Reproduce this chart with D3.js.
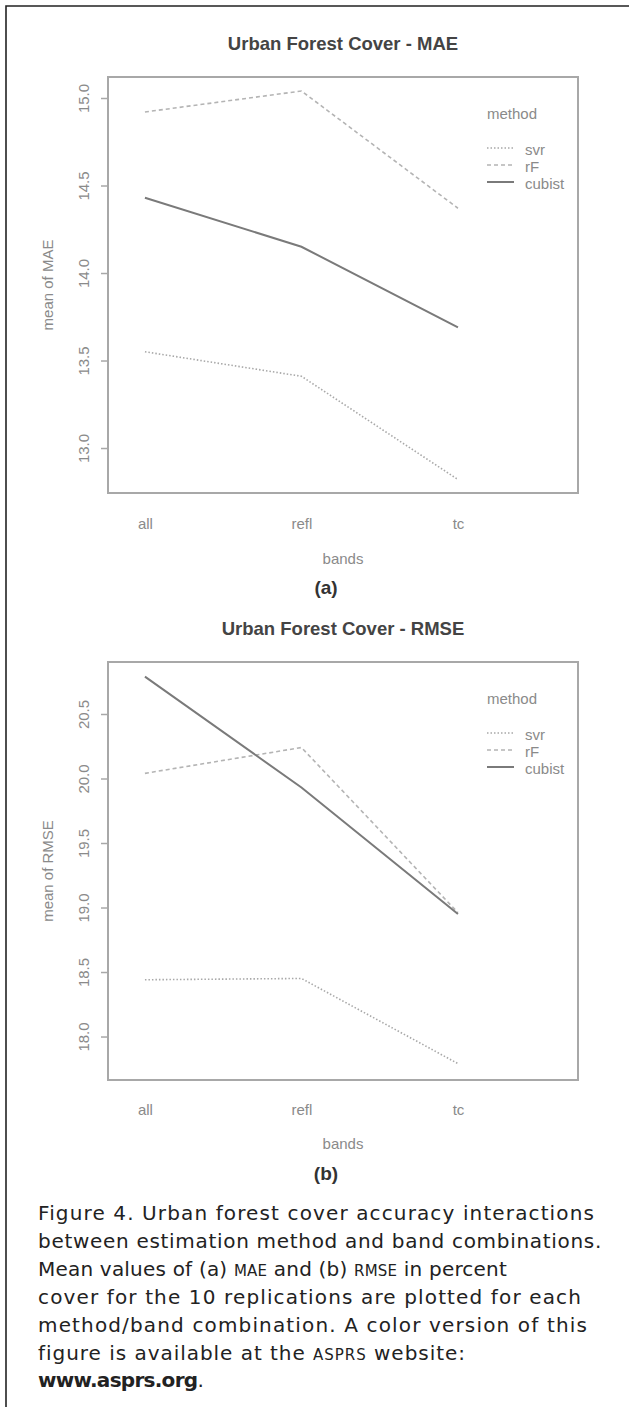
<!DOCTYPE html>
<html><head><meta charset="utf-8">
<script src="https://cdn.jsdelivr.net/npm/d3@7"></script>
<style>
html,body{margin:0;padding:0;background:#fff;}
svg{display:block;}
</style></head>
<body>
<script>
// ---- data ----
const bands = ["all", "refl", "tc"];
const methods = ["svr", "rF", "cubist"];
const maeSvr = [13.55, 13.41, 12.82];
const maeRF = [14.92, 15.04, 14.37];
const maeCubist = [14.43, 14.15, 13.69];
const rmseSvr = [18.44, 18.45, 17.79];
const rmseRF = [20.04, 20.24, 18.96];
const rmseCubist = [20.79, 19.93, 18.95];
const maeTicks = [13.0, 13.5, 14.0, 14.5, 15.0];
const rmseTicks = [18.0, 18.5, 19.0, 19.5, 20.0, 20.5];

const W = 629, H = 1407;
const svg = d3.select("body").append("svg").attr("width", W).attr("height", H);

// outer frame (left and top edges visible)
svg.append("path").attr("d", `M6,${H} L6,6 L${W},6`).attr("fill","none").attr("stroke","#222").attr("stroke-width",1.6);

const styles = {
  svr: {stroke:"#a8a8a8", dash:"1.5,2", width:1.6},
  rF: {stroke:"#b4b4b4", dash:"4,3", width:1.6},
  cubist: {stroke:"#7a7a7a", dash:null, width:2}
};
const font = "'Liberation Sans', Arial, sans-serif";
const lab = 15;

function panel(cfg) {
  const g = svg.append("g");
  const x = d3.scaleLinear().domain([0.764, 3.767]).range([108, 578]);
  const y = d3.scaleLinear().domain(cfg.yDomain).range([cfg.bottom, cfg.top]);
  // title
  g.append("text").attr("x", 343).attr("y", cfg.titleY).attr("text-anchor","middle")
    .attr("dominant-baseline","central").attr("font-family",font).attr("font-weight","bold")
    .attr("font-size",18.5).attr("fill","#444").text(cfg.title);
  // lines
  const line = d3.line().x((d,i)=>x(i+1)).y(d=>y(d));
  cfg.series.forEach((vals,k)=>{
    const s = styles[methods[k]];
    g.append("path").datum(vals).attr("d", line).attr("fill","none")
      .attr("stroke", s.stroke).attr("stroke-width", s.width)
      .attr("stroke-dasharray", s.dash);
  });
  // box
  g.append("rect").attr("x",108).attr("y",cfg.top).attr("width",578-108).attr("height",cfg.bottom-cfg.top)
    .attr("fill","none").attr("stroke","#a8a8a8").attr("stroke-width",2);
  // y axis ticks
  const yAxis = d3.axisLeft(y).tickValues(cfg.ticks).tickSize(7).tickFormat(d3.format(".1f"));
  const ya = g.append("g").attr("transform","translate(108,0)").call(yAxis);
  ya.select(".domain").remove();
  ya.selectAll(".tick line").attr("stroke","#a8a8a8").attr("stroke-width",1.5);
  ya.selectAll(".tick text").attr("font-family",font).attr("font-size",lab).attr("fill","#8a8a8a")
    .attr("x",0).attr("dy",null).attr("text-anchor","middle").attr("dominant-baseline","central")
    .attr("transform","translate(-25,0) rotate(-90)");
  // x axis labels (no ticks)
  const xa = d3.axisBottom(x).tickValues([1,2,3]).tickSize(0).tickFormat((d)=>bands[d-1]);
  const xg = g.append("g").attr("transform",`translate(0,${cfg.bottom})`).call(xa);
  xg.select(".domain").remove();
  xg.selectAll(".tick text").attr("font-family",font).attr("font-size",lab).attr("fill","#8a8a8a")
    .attr("y", cfg.xLabY - cfg.bottom).attr("dy",null).attr("dominant-baseline","central");
  // axis titles
  g.append("text").attr("x",343).attr("y",cfg.xTitleY).attr("text-anchor","middle").attr("dominant-baseline","central")
    .attr("font-family",font).attr("font-size",lab).attr("fill","#8a8a8a").text("bands");
  const cy = (cfg.top+cfg.bottom)/2;
  g.append("text").attr("transform",`translate(47,${cy}) rotate(-90)`).attr("text-anchor","middle").attr("dominant-baseline","central")
    .attr("font-family",font).attr("font-size",lab).attr("fill","#8a8a8a").text(cfg.yTitle);
  // panel label
  g.append("text").attr("x",326).attr("y",cfg.panelY).attr("text-anchor","middle").attr("dominant-baseline","central")
    .attr("font-family",font).attr("font-weight","bold").attr("font-size",19).attr("fill","#333").text(cfg.panel);
  // legend
  const lg = g.append("g");
  lg.append("text").attr("x",487).attr("y",cfg.top+36).attr("dominant-baseline","central")
    .attr("font-family",font).attr("font-size",lab).attr("fill","#8a8a8a").text("method");
  methods.forEach((m,k)=>{
    const ly = cfg.top+71+k*17;
    const s = styles[m];
    lg.append("line").attr("x1",487).attr("x2",514).attr("y1",ly).attr("y2",ly)
      .attr("stroke",s.stroke).attr("stroke-width",s.width).attr("stroke-dasharray",s.dash);
    lg.append("text").attr("x",525).attr("y",ly+1).attr("dominant-baseline","central")
      .attr("font-family",font).attr("font-size",lab).attr("fill","#8a8a8a").text(m);
  });
}

panel({title:"Urban Forest Cover - MAE", titleY:43, top:77, bottom:493, yDomain:[12.743,15.12],
  series:[maeSvr, maeRF, maeCubist], ticks:maeTicks, yTitle:"mean of  MAE",
  xLabY:523, xTitleY:558, panel:"(a)", panelY:587});
panel({title:"Urban Forest Cover - RMSE", titleY:628, top:662, bottom:1080, yDomain:[17.663,20.903],
  series:[rmseSvr, rmseRF, rmseCubist], ticks:rmseTicks, yTitle:"mean of  RMSE",
  xLabY:1109, xTitleY:1143, panel:"(b)", panelY:1173});

// caption
const capLines = [
  [["Figure 4. Urban forest cover accuracy interactions"]],
  [["between estimation method and band combinations."]],
  [["Mean values of (a) "],["MAE","sc"],[" and (b) "],["RMSE","sc"],[" in percent"]],
  [["cover for the 10 replications are plotted for each"]],
  [["method/band combination. A color version of this"]],
  [["figure is available at the "],["ASPRS","sc"],[" website:"]],
  [["www.asprs.org","b"],["."]]
];
const capWidths = [557, 564, 469, 544, 550, 428, 165];
const capFont = "'DejaVu Sans', 'Liberation Sans', sans-serif";
const cap = svg.append("g");
capLines.forEach((parts,i)=>{
  const t = cap.append("text").attr("x",38).attr("y",1220+i*27.9)
    .attr("font-family",capFont).attr("font-size",20).attr("fill","#222");
  parts.forEach(p=>{
    const ts = t.append("tspan").text(p[0]);
    if (p[1]==="sc") ts.attr("font-size",15);
    if (p[1]==="b") ts.attr("font-weight","bold");
  });
  const w = t.node().getComputedTextLength();
  const n = parts.map(p=>p[0]).join("").length;
  t.attr("letter-spacing", (capWidths[i] - w) / n);
});
</script>
</body></html>
